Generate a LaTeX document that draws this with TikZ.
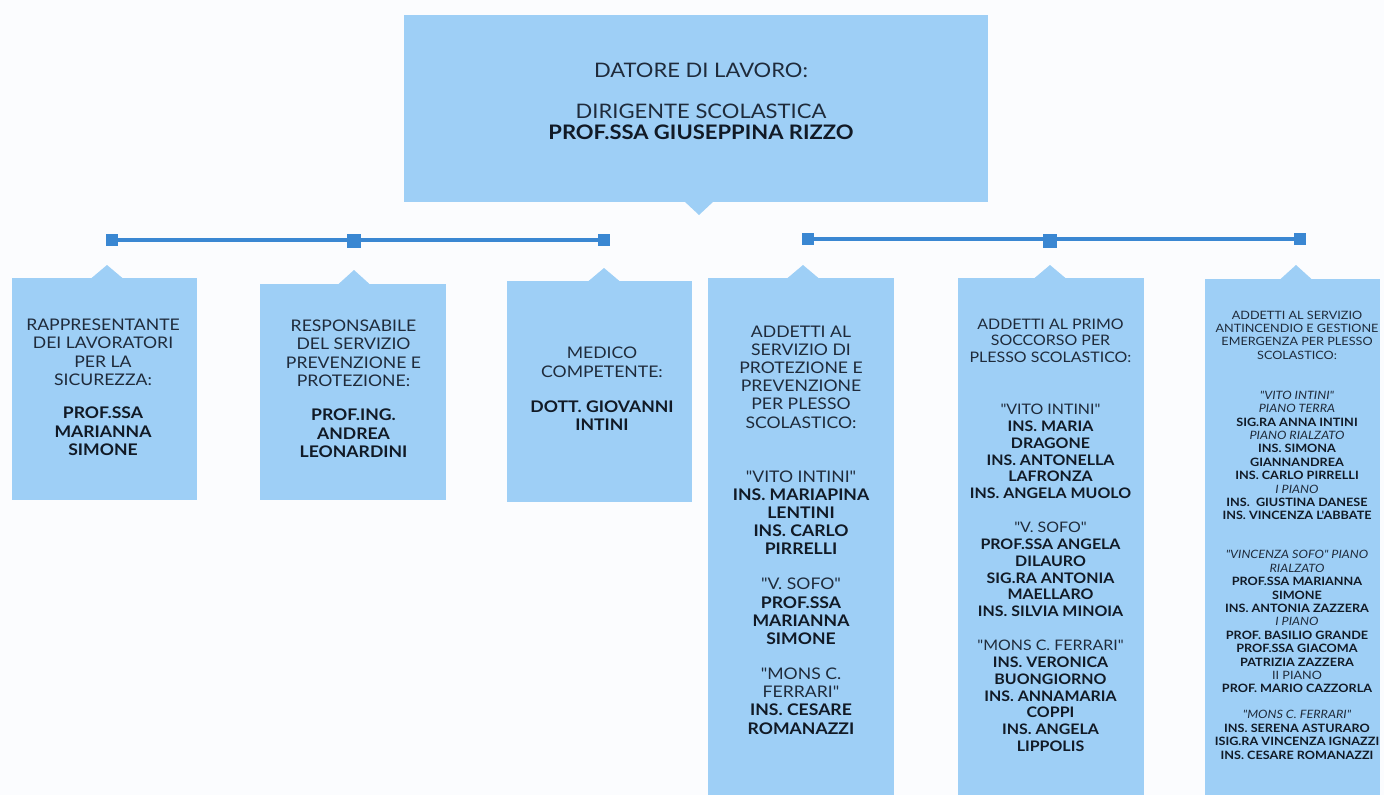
\documentclass[tikz,border=0pt]{standalone}
\usepackage{fontspec}
\setmainfont{Lato}[Ligatures=TeXOff,FakeStretch=1.1]
\definecolor{bg}{HTML}{FBFCFE}
\definecolor{boxc}{HTML}{9ECFF6}
\definecolor{linec}{HTML}{3A87D2}
\definecolor{txt}{HTML}{1F2B3B}
\definecolor{btxt}{HTML}{111A26}
\newcommand\B[1]{{\bfseries\color{btxt}#1}}
\newcommand\I[1]{{\itshape #1}}
\tikzset{
  box/.style={fill=boxc, draw=none, inner sep=0, anchor=north west},
  sqr/.style={fill=linec, draw=none, minimum size=12pt, inner sep=0},
  sqrbig/.style={sqr, minimum size=14pt},
  bar/.style={draw=linec, line width=3.5pt},
  ptr/.style={fill=boxc, draw=none},
  lbl/.style={align=center, text=txt, inner sep=0, anchor=center},
}
\begin{document}
\begin{tikzpicture}[x=1pt,y=-1pt]
\fill[bg] (0,0) rectangle (1384,795);
\useasboundingbox (0,0) rectangle (1384,795);

% top box
\node[box, minimum width=584pt, minimum height=187pt] (top) at (404,15) {};
\fill[ptr] (684,201) -- (699,215) -- (714,201) -- cycle;
\node[lbl, font={\fontsize{20}{21}\selectfont}] (ttop) at (701,101)
  {DATORE DI LAVORO:\\[20pt]DIRIGENTE SCOLASTICA\\\B{PROF.SSA GIUSEPPINA RIZZO}};

% bars and squares
\node[sqr] (s1) at (112,240) {};
\node[sqrbig] (s2) at (354,241) {};
\node[sqr] (s3) at (604,240) {};
\node[sqr] (s4) at (808,239) {};
\node[sqrbig] (s5) at (1050,241) {};
\node[sqr] (s6) at (1300,239) {};
\draw[bar] (s1.center) -- (s3.center);
\draw[bar] (s4.center) -- (s6.center);
\node[sqr] at (s1) {};
\node[sqrbig] at (s2) {};
\node[sqr] at (s3) {};
\node[sqr] at (s4) {};
\node[sqrbig] at (s5) {};
\node[sqr] at (s6) {};

% boxes
\node[box, minimum width=185pt, minimum height=222pt] (b1) at (12,278) {};
\node[box, minimum width=186pt, minimum height=216pt] (b2) at (260,284) {};
\node[box, minimum width=185pt, minimum height=221pt] (b3) at (507,281) {};
\node[box, minimum width=186pt, minimum height=517pt] (b4) at (708,278) {};
\node[box, minimum width=186pt, minimum height=517pt] (b5) at (958,278) {};
\node[box, minimum width=175pt, minimum height=516pt] (b6) at (1205,279) {};

% pointers
\fill[ptr] (91,278.5) -- (107,265) -- (123,278.5) -- cycle;
\fill[ptr] (338,284.5) -- (354,270) -- (370,284.5) -- cycle;
\fill[ptr] (588,281.5) -- (604,268) -- (620,281.5) -- cycle;
\fill[ptr] (787,278.5) -- (803,265) -- (819,278.5) -- cycle;
\fill[ptr] (1034,278.5) -- (1050,265) -- (1066,278.5) -- cycle;
\fill[ptr] (1280,279.5) -- (1296,265) -- (1312,279.5) -- cycle;

% texts
\node[lbl, font={\fontsize{16}{18.5}\selectfont}] (t1) at (103,387.5)
  {RAPPRESENTANTE\\DEI LAVORATORI\\PER LA\\SICUREZZA:\\[14.5pt]\B{PROF.SSA}\\\B{MARIANNA}\\\B{SIMONE}};
\node[lbl, font={\fontsize{16}{18.5}\selectfont}] (t2) at (353.5,389)
  {RESPONSABILE\\DEL SERVIZIO\\PREVENZIONE E\\PROTEZIONE:\\[15.5pt]\B{PROF.ING.}\\\B{ANDREA}\\\B{LEONARDINI}};
\node[lbl, font={\fontsize{16}{18.5}\selectfont}] (t3) at (602,389)
  {MEDICO\\COMPETENTE:\\[16.5pt]\B{DOTT. GIOVANNI}\\\B{INTINI}};
\node[lbl, font={\fontsize{16}{18.2}\selectfont}] (t4) at (801,530)
  {ADDETTI AL\\SERVIZIO DI\\PROTEZIONE E\\PREVENZIONE\\PER PLESSO\\SCOLASTICO:\\[35.8pt]
   "VITO INTINI"\\\B{INS. MARIAPINA}\\\B{LENTINI}\\\B{INS. CARLO}\\\B{PIRRELLI}\\[16.8pt]
   "V. SOFO"\\\B{PROF.SSA}\\\B{MARIANNA}\\\B{SIMONE}\\[16.8pt]
   "MONS C.\\FERRARI"\\\B{INS. CESARE}\\\B{ROMANAZZI}};
\node[lbl, font={\fontsize{14.5}{16.8}\selectfont}] (t5) at (1050.5,535)
  {ADDETTI AL PRIMO\\SOCCORSO PER\\PLESSO SCOLASTICO:\\[35.2pt]
   "VITO INTINI"\\\B{INS. MARIA}\\\B{DRAGONE}\\\B{INS. ANTONELLA}\\\B{LAFRONZA}\\\B{INS. ANGELA MUOLO}\\[17.2pt]
   "V. SOFO"\\\B{PROF.SSA ANGELA}\\\B{DILAURO}\\\B{SIG.RA ANTONIA}\\\B{MAELLARO}\\\B{INS. SILVIA MINOIA}\\[17.2pt]
   "MONS C. FERRARI"\\\B{INS. VERONICA}\\\B{BUONGIORNO}\\\B{INS. ANNAMARIA}\\\B{COPPI}\\\B{INS. ANGELA}\\\B{LIPPOLIS}};
\node[lbl, font={\fontsize{11.5}{13.4}\selectfont}] (t6) at (1297,535)
  {ADDETTI AL SERVIZIO\\ANTINCENDIO E GESTIONE\\EMERGENZA PER PLESSO\\SCOLASTICO:\\[26.6pt]
   \I{"VITO INTINI"}\\\I{PIANO TERRA}\\\B{SIG.RA ANNA INTINI}\\\I{PIANO RIALZATO}\\\B{INS. SIMONA}\\\B{GIANNANDREA}\\\B{INS. CARLO PIRRELLI}\\\I{I PIANO}\\\B{INS.\ \ GIUSTINA DANESE}\\\B{INS. VINCENZA L'ABBATE}\\[25.6pt]
   \I{"VINCENZA SOFO" PIANO}\\\I{RIALZATO}\\\B{PROF.SSA MARIANNA}\\\B{SIMONE}\\\B{INS. ANTONIA ZAZZERA}\\\I{I PIANO}\\\B{PROF. BASILIO GRANDE}\\\B{PROF.SSA GIACOMA}\\\B{PATRIZIA ZAZZERA}\\II PIANO\\\B{PROF. MARIO CAZZORLA}\\[12.6pt]
   \I{"MONS C. FERRARI"}\\\B{INS. SERENA ASTURARO}\\\B{ISIG.RA VINCENZA IGNAZZI}\\\B{INS. CESARE ROMANAZZI}};
\end{tikzpicture}
\end{document}
